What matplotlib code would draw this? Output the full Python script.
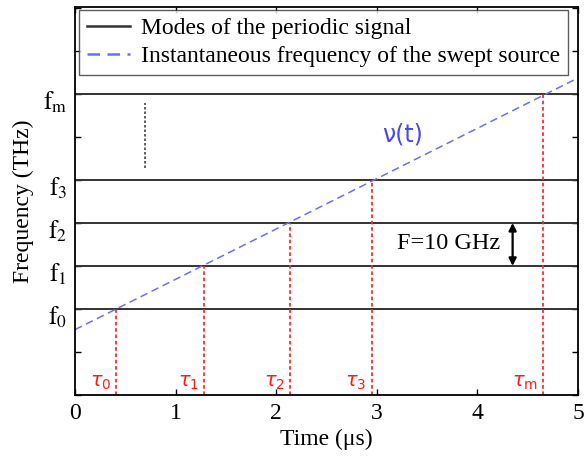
import matplotlib
matplotlib.use("Agg")
import matplotlib.pyplot as plt
import numpy as np

plt.rcParams['font.family'] = ['Liberation Serif', 'DejaVu Serif']
plt.rcParams['mathtext.fontset'] = 'stix'

# Mode levels (in units of mode spacing F)
mode_levels = [2, 3, 4, 5, 7]
mode_labels = [r'$\mathrm{f}_0$', r'$\mathrm{f}_1$', r'$\mathrm{f}_2$', r'$\mathrm{f}_3$', r'$\mathrm{f}_\mathrm{m}$']
# Crossing times (μs)
tau_values = [0.41, 1.28, 2.14, 2.95, 4.65]
tau_labels = [r'$\tau_0$', r'$\tau_1$', r'$\tau_2$', r'$\tau_3$', r'$\tau_\mathrm{m}$']
# Swept source instantaneous frequency endpoints
sweep_t = [0.0, 5.0]
sweep_nu = [1.52, 7.37]
xticks = [0, 1, 2, 3, 4, 5]

fig = plt.figure(figsize=(5.88, 4.57), dpi=100)
ax = fig.add_axes([0.1276, 0.1357, 0.983 - 0.1276, 0.9847 - 0.1357])

for i, lv in enumerate(mode_levels):
    ax.axhline(lv, color='#333333', lw=1.4, label='Modes of the periodic signal' if i == 0 else None)

ax.plot(sweep_t, sweep_nu, color='#6e6ef2', lw=1.1, ls=(0, (5, 3)),
        label='Instantaneous frequency of the swept source')

for t, lv, lab in zip(tau_values, mode_levels, tau_labels):
    ax.plot([t, t], [0, lv], color='#ff2a2a', lw=1.3, ls=(0, (2, 1.5)))
    ax.text(t - 0.05, 0.28, lab, color='#ff1a1a', fontsize=14, ha='right', va='center',
            math_fontfamily='dejavusans')

# vertical ellipsis between f3 and fm
ax.plot([0.70, 0.70], [5.28, 6.79], color='#444444', lw=1.2, ls=(0, (1.5, 1.2)))

ax.text(3.26, 6.05, 'ν(t)', color='#4848f0', fontsize=17, ha='center', va='center',
        family='DejaVu Sans')

ax.text(4.23, 3.53, 'F=10 GHz', fontsize=17.5, ha='right', va='center')
ax.annotate('', xy=(4.35, 3.0), xytext=(4.35, 4.0),
            arrowprops=dict(arrowstyle='<|-|>', color='black', lw=1.6,
                            mutation_scale=11, shrinkA=0, shrinkB=0))

ax.set_xlim(0, 5)
ax.set_ylim(0, 9.02)
ax.set_xticks(xticks)
ax.set_xticklabels([str(x) for x in xticks], fontsize=17)
ax.set_yticks(range(0, 10))
ax.set_yticklabels([])
for lv, lab in zip(mode_levels, mode_labels):
    ax.text(-0.08, lv - 0.2, lab, fontsize=18, ha='right', va='center',
            transform=ax.transData)
ax.tick_params(direction='in', top=True, right=True, length=4, width=1)
ax.tick_params(axis='x', pad=6)
for s in ax.spines.values():
    s.set_linewidth(1.3)

ax.set_xlabel('Time (μs)', fontsize=17, labelpad=3)
ax.set_ylabel('Frequency (THz)', fontsize=17, labelpad=26)

leg = ax.legend(loc='upper right', bbox_to_anchor=(0.980, 0.992), fontsize=17,
                frameon=True, fancybox=False, edgecolor='#333333', handlelength=1.85,
                borderpad=0.33, labelspacing=0.25, borderaxespad=0.0, handletextpad=0.45)
leg.get_frame().set_linewidth(1.0)
for h in leg.legend_handles:
    h.set_linewidth(1.8)

fig.savefig('out.png', dpi=100)
